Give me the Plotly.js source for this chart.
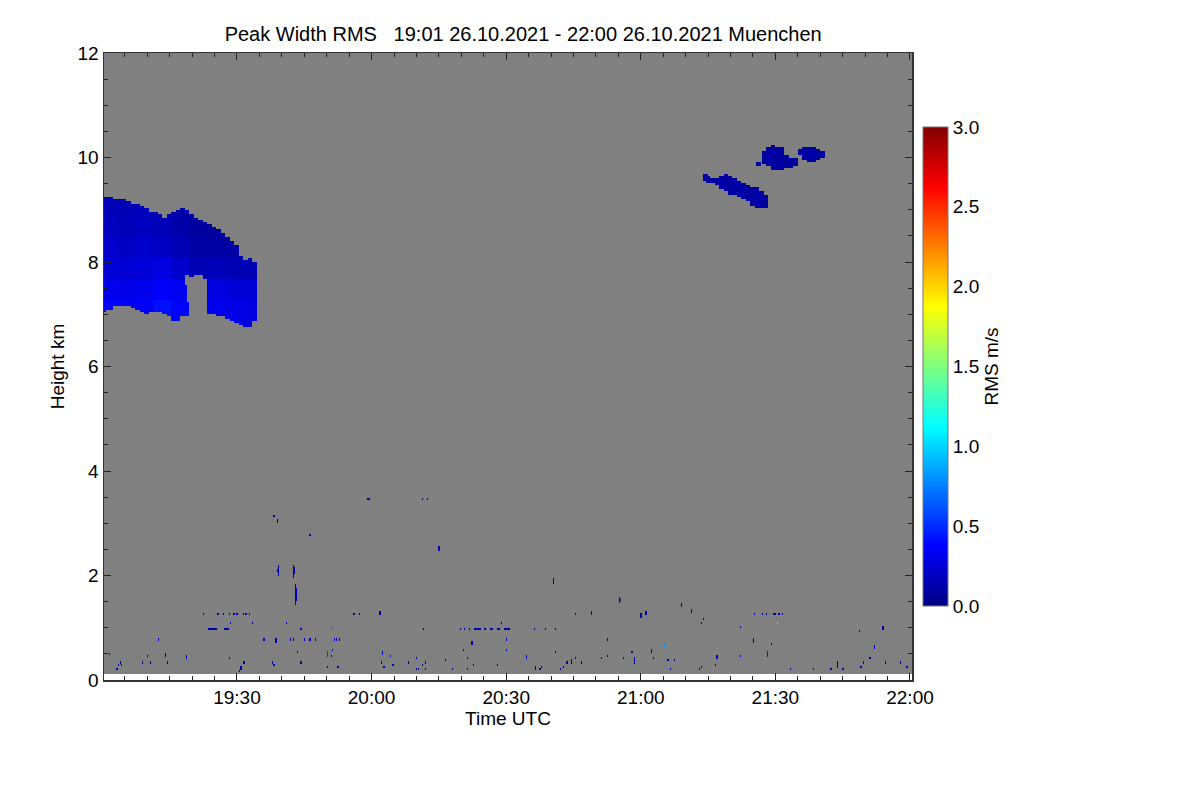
<!DOCTYPE html>
<html>
<head>
<meta charset="utf-8">
<script src="https://cdn.plot.ly/plotly-3.0.1.min.js"></script>
<style>
  html, body { margin: 0; padding: 0; background: #fff; }
  #chart { width: 1200px; height: 800px; }
</style>
</head>
<body>
<div id="chart"></div>
<script>
// times are minutes after 19:00 UTC on 26.10.2021, heights in km, values in m/s

// big cloud at 7-9 km, one row per minute: [t, base, top]
const bigCloud = [
  [0.5, 7.05, 9.25], [1, 7.08, 9.25], [2, 7.10, 9.23], [3, 7.15, 9.21], [4, 7.17, 9.20],
  [5, 7.16, 9.18], [6, 7.15, 9.17], [7, 7.12, 9.13], [8, 7.10, 9.10], [9, 7.03, 9.07],
  [10, 7.02, 9.02], [11, 7.04, 8.97], [12, 7.05, 8.95], [13, 7.03, 8.90], [14, 7.00, 8.85],
  [15, 6.95, 8.93], [16, 6.90, 8.96], [17, 6.88, 8.99], [18, 6.95, 9.02], [19, 6.98, 9.00],
  [20, 7.72, 8.90], [21, 7.75, 8.85], [22, 7.75, 8.80], [23, 7.68, 8.76], [24, 7.02, 8.72],
  [25, 7.00, 8.68], [26, 6.98, 8.62], [27, 6.95, 8.55], [28, 6.92, 8.48], [29, 6.88, 8.38],
  [30, 6.85, 8.30], [31, 6.80, 8.10], [32, 6.78, 8.05], [33, 6.78, 8.06], [34, 6.90, 8.00]
];

// clear air cutting into the big cloud (left side of the notch): [t, h low, h high]
const bigCloudGaps = [[18.75, 7.55, 7.76], [19.25, 7.25, 7.76]];

// rms inside the big cloud, by time block (rows) and height band (columns)
const bigBlockStart = [0, 4, 8, 12, 16, 20, 24, 28, 32];
const bigBandStart = [6.7, 7.3, 7.7, 8.1, 8.5, 8.9];
const bigCloudVal = [
  [0.38, 0.32, 0.26, 0.22, 0.18, 0.16],
  [0.36, 0.30, 0.25, 0.20, 0.17, 0.15],
  [0.36, 0.32, 0.26, 0.22, 0.18, 0.16],
  [0.42, 0.36, 0.28, 0.20, 0.16, 0.15],
  [0.38, 0.34, 0.22, 0.15, 0.12, 0.12],
  [0.30, 0.26, 0.15, 0.10, 0.09, 0.09],
  [0.32, 0.28, 0.16, 0.10, 0.08, 0.08],
  [0.30, 0.26, 0.15, 0.10, 0.08, 0.08],
  [0.28, 0.24, 0.15, 0.10, 0.08, 0.08]
];

// two small cirrus patches near 9.5-10 km: [t, base, top, rms]
const cirrusLow = [
  [134.5, 9.55, 9.66, 0.10], [135, 9.54, 9.64, 0.10], [136, 9.52, 9.60, 0.08], [137, 9.48, 9.60, 0.10],
  [138, 9.42, 9.62, 0.12], [139, 9.35, 9.66, 0.10], [140, 9.30, 9.65, 0.08], [141, 9.27, 9.60, 0.10],
  [142, 9.25, 9.57, 0.12], [143, 9.22, 9.52, 0.10], [144, 9.15, 9.48, 0.08], [145, 9.10, 9.45, 0.10],
  [146, 9.06, 9.42, 0.12], [147, 9.04, 9.35, 0.10], [148, 9.05, 9.28, 0.08]
];
const cirrusHigh = [
  [146.25, 9.85, 9.90, 0.08], [147.5, 9.90, 10.12, 0.08], [148.5, 9.85, 10.18, 0.10],
  [149.5, 9.78, 10.22, 0.10], [150.5, 9.75, 10.20, 0.08], [151.5, 9.78, 10.18, 0.10],
  [152.5, 9.80, 10.05, 0.08], [153.5, 9.80, 10.00, 0.10], [154.5, 9.85, 9.98, 0.08],
  [155.5, 10.05, 10.16, 0.08], [156.5, 9.95, 10.18, 0.10], [157.5, 9.93, 10.20, 0.12],
  [158.5, 9.94, 10.18, 0.10], [159.5, 9.96, 10.16, 0.08], [160.3, 10.00, 10.12, 0.10]
];

// isolated low echoes: [t start, t end, h low, h high, rms]
const lowEchoes = [
  [22.5, 22.5, 1.27, 1.27, 0.10], [25.8, 25.8, 1.27, 1.27, 0.12], [27.1, 27.1, 1.27, 1.27, 0.10],
  [28.2, 28.2, 1.27, 1.27, 0.10], [29.2, 29.2, 1.27, 1.27, 0.12], [29.6, 29.6, 1.27, 1.27, 0.10],
  [29.9, 29.9, 1.27, 1.27, 0.10], [31.4, 31.4, 1.27, 1.27, 0.10], [31.9, 31.9, 1.27, 1.27, 0.12],
  [32.7, 32.7, 1.27, 1.27, 0.10], [55.9, 55.9, 1.27, 1.27, 0.10], [56.3, 56.3, 1.27, 1.27, 0.10],
  [57.3, 57.3, 1.27, 1.27, 0.12], [61.7, 61.9, 1.25, 1.29, 0.10], [105.6, 105.6, 1.27, 1.27, 0.15],
  [109.0, 109.0, 1.25, 1.31, 0.25], [120.0, 120.0, 1.22, 1.27, 0.10], [121.1, 121.3, 1.25, 1.29, 0.10],
  [145.3, 145.3, 1.27, 1.27, 0.15], [146.9, 146.9, 1.27, 1.27, 0.12], [148.1, 148.1, 1.27, 1.27, 0.15],
  [149.4, 149.7, 1.27, 1.27, 0.10], [150.0, 150.0, 1.27, 1.27, 0.12], [150.7, 150.7, 1.27, 1.27, 0.15],
  [151.5, 151.5, 1.27, 1.27, 0.12],
  [28.4, 28.4, 1.10, 1.10, 0.25], [33.4, 33.4, 1.10, 1.10, 0.12], [40.9, 40.9, 1.10, 1.10, 0.15],
  [23.8, 25.5, 0.98, 0.98, 0.12], [27.3, 27.9, 0.98, 0.98, 0.10], [44.3, 44.3, 0.98, 0.98, 0.12],
  [51.0, 51.0, 0.96, 1.00, 0.75], [71.5, 71.5, 0.98, 0.98, 0.12], [79.7, 79.7, 0.98, 0.98, 0.10],
  [80.7, 80.7, 0.98, 0.98, 0.12], [81.8, 81.8, 0.98, 0.98, 0.10], [83.0, 84.2, 0.98, 0.98, 0.12],
  [85.3, 85.3, 0.98, 0.98, 0.10], [86.4, 87.1, 0.98, 0.98, 0.12], [87.9, 88.6, 0.98, 0.98, 0.10],
  [89.5, 90.8, 0.98, 0.98, 0.10], [89.0, 89.0, 1.10, 1.10, 0.20], [96.3, 96.3, 0.98, 0.98, 0.15],
  [98.7, 98.7, 0.98, 0.98, 0.10], [100.9, 100.9, 0.98, 0.98, 0.12],
  [12.5, 12.5, 0.77, 0.77, 0.20], [36.1, 36.1, 0.77, 0.77, 0.25], [38.6, 38.8, 0.75, 0.79, 0.12],
  [42.0, 42.0, 0.77, 0.77, 0.15], [42.4, 42.4, 0.77, 0.77, 0.12], [45.0, 45.0, 0.77, 0.77, 0.15],
  [46.3, 46.3, 0.77, 0.77, 0.20], [47.5, 47.5, 0.77, 0.77, 0.25], [51.7, 51.7, 0.77, 0.77, 0.15],
  [52.2, 52.2, 0.77, 0.77, 0.12], [52.8, 52.8, 0.77, 0.77, 0.15], [82.2, 82.4, 0.71, 0.75, 0.12],
  [89.9, 89.9, 0.78, 0.78, 0.25], [112.5, 112.5, 0.77, 0.77, 0.20], [144.9, 145.1, 0.75, 0.79, 0.10],
  [148.9, 148.9, 0.70, 0.70, 0.20], [125.2, 125.2, 0.66, 0.70, 0.80],
  [51.2, 51.2, 0.60, 0.60, 0.25], [43.4, 43.4, 0.55, 0.55, 0.20], [80.4, 80.4, 0.57, 0.57, 0.25],
  [1.5, 1.5, 0.51, 0.51, 0.25], [13.9, 14.1, 0.46, 0.51, 0.10], [50.3, 50.3, 0.46, 0.52, 0.55],
  [62.6, 62.6, 0.49, 0.53, 0.20], [18.8, 18.8, 0.40, 0.44, 0.20], [10.0, 10.0, 0.44, 0.44, 0.15],
  [28.2, 28.2, 0.42, 0.42, 0.20], [51.0, 51.0, 0.45, 0.45, 0.12], [64.3, 64.3, 0.45, 0.45, 0.15],
  [70.0, 70.0, 0.42, 0.42, 0.12], [81.3, 81.3, 0.42, 0.42, 0.15], [76.6, 76.6, 0.38, 0.38, 0.20],
  [3.9, 3.9, 0.36, 0.36, 0.12], [9.0, 9.0, 0.35, 0.35, 0.15], [10.8, 10.8, 0.35, 0.35, 0.12],
  [14.6, 14.6, 0.35, 0.35, 0.15], [31.4, 31.8, 0.36, 0.36, 0.12], [38.1, 38.1, 0.36, 0.36, 0.20],
  [44.3, 44.3, 0.35, 0.35, 0.12], [62.3, 62.3, 0.35, 0.35, 0.15], [68.3, 68.3, 0.35, 0.35, 0.12],
  [72.0, 72.0, 0.34, 0.34, 0.15],
  [3.5, 3.5, 0.29, 0.29, 0.12], [4.3, 4.3, 0.29, 0.29, 0.15], [38.3, 38.3, 0.30, 0.30, 0.20],
  [50.3, 50.3, 0.27, 0.27, 0.15], [52.6, 52.6, 0.27, 0.27, 0.12], [62.8, 62.8, 0.26, 0.26, 0.15],
  [64.8, 64.8, 0.30, 0.30, 0.12], [71.2, 71.2, 0.29, 0.29, 0.10], [82.7, 82.7, 0.30, 0.30, 0.15],
  [88.0, 88.0, 0.30, 0.30, 0.20], [3.3, 3.3, 0.22, 0.22, 0.12], [30.7, 30.9, 0.21, 0.25, 0.10],
  [70.1, 70.1, 0.22, 0.22, 0.10], [70.4, 70.4, 0.22, 0.22, 0.12], [71.9, 71.9, 0.23, 0.23, 0.10],
  [77.9, 77.9, 0.22, 0.22, 0.12], [81.2, 81.2, 0.22, 0.22, 0.15], [30.5, 30.5, 0.18, 0.18, 0.10],
  [58.9, 59.6, 3.46, 3.46, 0.10], [71.3, 71.3, 3.46, 3.46, 0.12], [72.6, 72.6, 3.46, 3.46, 0.12],
  [38.3, 38.3, 3.13, 3.13, 0.12], [39.0, 39.0, 3.00, 3.04, 0.12], [46.3, 46.3, 2.79, 2.79, 0.15],
  [75.1, 75.1, 2.49, 2.53, 0.12], [39.3, 39.3, 2.03, 2.18, 0.12], [39.1, 39.1, 2.08, 2.10, 0.15],
  [42.6, 42.6, 2.00, 2.18, 0.15], [42.8, 42.8, 2.06, 2.14, 0.12],
  [43.1, 43.1, 1.45, 1.80, 0.15], [43.3, 43.3, 1.55, 1.75, 0.12],
  [100.5, 100.5, 1.86, 1.93, 0.10], [115.2, 115.2, 1.50, 1.58, 0.10], [115.6, 115.6, 1.54, 1.54, 0.12],
  [129.0, 129.0, 1.42, 1.46, 0.10], [131.2, 131.2, 1.29, 1.33, 0.12], [133.9, 133.9, 1.17, 1.17, 0.15],
  [133.5, 133.5, 1.10, 1.10, 0.12], [150.4, 150.4, 1.08, 1.08, 1.10], [142.2, 142.2, 1.02, 1.02, 0.15],
  [168.7, 168.7, 0.92, 0.92, 0.15], [173.8, 174.0, 0.96, 1.00, 0.10], [172.0, 172.0, 0.61, 0.65, 0.20],
  [100.9, 100.9, 0.53, 0.53, 0.15], [122.3, 122.3, 0.52, 0.57, 0.10], [148.2, 148.2, 0.47, 0.53, 0.45],
  [117.9, 117.9, 0.52, 0.52, 0.15], [90.0, 90.0, 0.60, 0.60, 0.25], [94.4, 94.4, 0.41, 0.45, 0.15],
  [105.6, 105.6, 0.43, 0.43, 0.15], [111.2, 111.2, 0.43, 0.43, 0.15], [112.5, 112.5, 0.48, 0.48, 0.20],
  [115.9, 115.9, 0.43, 0.43, 0.15], [118.5, 118.5, 0.36, 0.43, 0.15], [122.8, 122.8, 0.43, 0.43, 0.12],
  [126.1, 126.1, 0.38, 0.38, 0.20], [127.5, 127.5, 0.37, 0.37, 0.12], [136.8, 137.0, 0.41, 0.45, 0.12],
  [142.2, 142.2, 0.45, 0.45, 0.25], [171.1, 171.1, 0.43, 0.43, 0.25], [174.5, 174.5, 0.36, 0.36, 0.15],
  [177.8, 177.8, 0.36, 0.36, 0.12], [169.6, 169.6, 0.33, 0.33, 0.20], [163.8, 163.8, 0.27, 0.33, 0.12],
  [104.4, 104.6, 0.33, 0.38, 0.12], [103.6, 103.6, 0.36, 0.36, 0.15], [106.7, 106.7, 0.36, 0.36, 0.12],
  [96.5, 96.5, 0.22, 0.27, 0.12], [97.4, 97.4, 0.23, 0.23, 0.15], [97.8, 97.8, 0.26, 0.26, 0.12],
  [102.1, 102.1, 0.23, 0.23, 0.20], [102.7, 102.7, 0.25, 0.25, 0.15], [126.6, 126.6, 0.20, 0.20, 0.20],
  [133.0, 133.0, 0.24, 0.24, 0.15], [133.5, 133.5, 0.26, 0.26, 0.12], [136.4, 136.4, 0.28, 0.28, 0.20],
  [153.3, 153.3, 0.20, 0.20, 0.20], [158.4, 158.4, 0.23, 0.23, 0.15], [162.2, 162.6, 0.20, 0.20, 0.12],
  [164.9, 164.9, 0.20, 0.20, 0.15], [168.9, 168.9, 0.27, 0.27, 0.20], [179.2, 179.2, 0.25, 0.25, 0.25]
];

const cbTicks = [0, 0.5, 1, 1.5, 2, 2.5, 3];

// grid: 15 s profiles, 40 m gates
const T0 = 0.5, DT = 0.25, NT = 720;
const H0 = 0.14, DH = 0.04, NH = 297;

function stamp(min) {
  const s = Math.round(min * 60);
  const hh = 19 + Math.floor(s / 3600);
  const mm = Math.floor((s % 3600) / 60);
  const ss = s % 60;
  const p = n => String(n).padStart(2, '0');
  return '2021-10-26 ' + p(hh) + ':' + p(mm) + ':' + p(ss);
}

const times = [];
for (let i = 0; i < NT; i++) times.push(stamp(T0 + i * DT));
const heights = [];
for (let k = 0; k < NH; k++) heights.push(+(H0 + k * DH).toFixed(3));

const z = [];
for (let k = 0; k < NH; k++) z.push(new Array(NT).fill(null));

function setCell(i, k, v) {
  if (i >= 0 && i < NT && k >= 0 && k < NH) z[k][i] = v;
}

function lookup(starts, val) {
  let idx = 0;
  for (let j = 0; j < starts.length; j++) if (val >= starts[j]) idx = j;
  return idx;
}

// columns covered by an entry at time t, half width w (minutes)
function columns(t, w) {
  const i0 = Math.ceil((t - w - T0) / DT - 1e-6);
  const i1 = Math.floor((t + w - T0) / DT - 1e-6);
  const out = [];
  for (let i = i0; i <= i1; i++) out.push(i);
  return out;
}

// big cloud
bigCloud.forEach(([t, base, top]) => {
  const b = lookup(bigBlockStart, t);
  columns(t, 0.5).forEach(i => {
    for (let k = 0; k < NH; k++) {
      const h = heights[k];
      if (h >= base && h <= top) setCell(i, k, bigCloudVal[b][lookup(bigBandStart, h)]);
    }
  });
});
bigCloudGaps.forEach(([t, lo, hi]) => {
  columns(t, 0.25).forEach(i => {
    for (let k = 0; k < NH; k++) {
      if (heights[k] >= lo && heights[k] <= hi) setCell(i, k, null);
    }
  });
});

// cirrus patches
[cirrusLow, cirrusHigh].forEach(list => {
  list.forEach(([t, base, top, v]) => {
    columns(t, 0.5).forEach(i => {
      for (let k = 0; k < NH; k++) {
        const h = heights[k];
        if (h >= base && h <= top) setCell(i, k, v);
      }
    });
  });
});

// isolated echoes
lowEchoes.forEach(([t0, t1, h0, h1, v]) => {
  const i0 = Math.round((t0 - T0) / DT), i1 = Math.round((t1 - T0) / DT);
  const k0 = Math.round((h0 - H0) / DH), k1 = Math.round((h1 - H0) / DH);
  for (let i = i0; i <= i1; i++) for (let k = k0; k <= k1; k++) setCell(i, k, v);
});

const jet = [
  [0, 'rgb(0,0,131)'], [0.125, 'rgb(0,0,255)'], [0.375, 'rgb(0,255,255)'],
  [0.625, 'rgb(255,255,0)'], [0.875, 'rgb(255,0,0)'], [1, 'rgb(128,0,0)']
];

const fam = 'Liberation Sans, Arial, sans-serif';
const font = { family: fam, size: 19, color: '#000' };

const trace = {
  type: 'heatmap',
  x: times,
  y: heights,
  z: z,
  zmin: 0,
  zmax: 3,
  colorscale: jet,
  zsmooth: false,
  hoverongaps: false,
  colorbar: {
    x: 1.0136, xanchor: 'left', xpad: 0,
    y: 0.5, yanchor: 'middle', ypad: 0,
    len: 0.764, lenmode: 'fraction',
    thickness: 25,
    outlinecolor: '#777', outlinewidth: 1,
    tickvals: cbTicks,
    ticktext: cbTicks.map(v => v.toFixed(1)),
    ticks: '',
    tickfont: font,
    title: { text: 'RMS m/s', side: 'right', font: font }
  }
};

const layout = {
  width: 1200,
  height: 800,
  margin: { l: 104, r: 288, t: 53, b: 120 },
  paper_bgcolor: '#fff',
  plot_bgcolor: '#fff',
  font: font,
  showlegend: false,
  title: {
    text: 'Peak Width RMS\u00a0\u00a0\u00a019:01 26.10.2021 - 22:00 26.10.2021 Muenchen',
    font: { family: fam, size: 20, color: '#000' },
    x: 0.436, xref: 'container', xanchor: 'center',
    y: 0.958, yref: 'container', yanchor: 'middle'
  },
  xaxis: {
    type: 'date',
    range: [stamp(0.36), stamp(180.45)],
    tick0: '2021-10-26 19:00:00',
    dtick: 30 * 60 * 1000,
    tickformat: '%H:%M',
    ticks: 'inside', ticklen: 7, tickwidth: 1, tickcolor: '#222',
    minor: { dtick: 5 * 60 * 1000, ticks: 'inside', ticklen: 4, tickcolor: '#222' },
    showline: true, linecolor: '#333', linewidth: 1.5, mirror: 'ticks',
    showgrid: false, zeroline: false,
    tickfont: font,
    title: { text: 'Time UTC', font: font, standoff: 3 }
  },
  yaxis: {
    range: [0, 12],
    dtick: 2,
    ticks: 'inside', ticklen: 7, tickwidth: 1, tickcolor: '#222',
    minor: { dtick: 0.5, ticks: 'inside', ticklen: 4, tickcolor: '#222' },
    showline: true, linecolor: '#333', linewidth: 1.5, mirror: 'ticks',
    showgrid: false, zeroline: false,
    tickfont: font,
    ticklabelstandoff: 0,
    title: { text: 'Height km', font: font, standoff: 8 }
  },
  shapes: [{
    type: 'rect', layer: 'below',
    xref: 'paper', x0: 0, x1: 1,
    yref: 'y', y0: 0.115, y1: 12,
    fillcolor: '#808080', line: { width: 0 }
  }]
};

Plotly.newPlot('chart', [trace], layout, { staticPlot: true });
</script>
</body>
</html>
